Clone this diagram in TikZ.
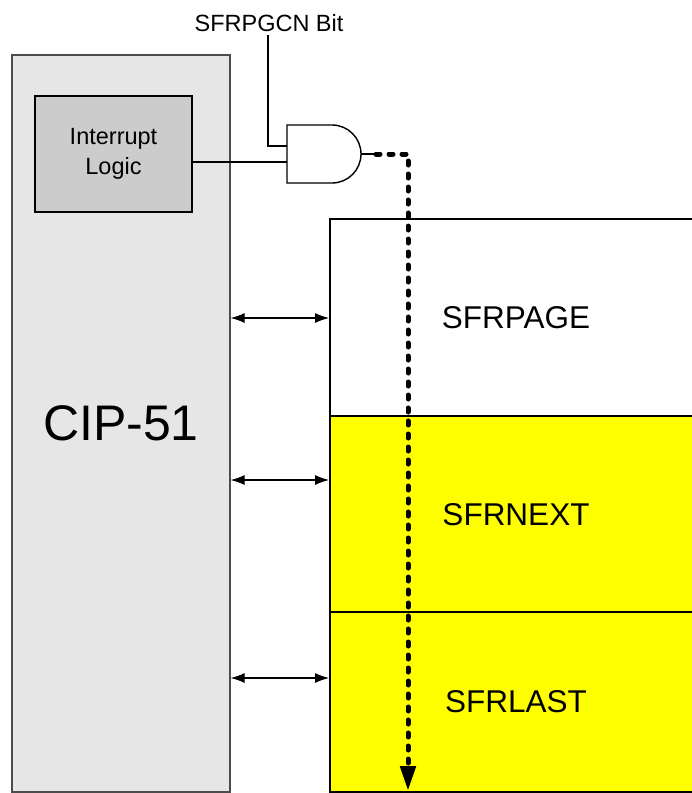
\documentclass[tikz,border=0pt]{standalone}
\usepackage{fontspec}
\setmainfont{Liberation Sans}
\usepackage{xcolor}
\usetikzlibrary{arrows.meta, positioning}
\definecolor{coregray}{RGB}{230,230,230}
\definecolor{logicgray}{RGB}{204,204,204}
\definecolor{sfryellow}{RGB}{255,255,0}
\tikzset{
    core/.style={rectangle, draw=black!70, line width=1.2pt, fill=coregray, minimum width=218pt, minimum height=737pt, text centered, inner sep=0pt, font=\fontsize{50}{55}\selectfont},
    logic/.style={rectangle, draw, line width=1.4pt, fill=logicgray, minimum width=157pt, minimum height=116pt, text centered, align=center, inner sep=0pt, font=\fontsize{23.5}{30}\selectfont},
    sfrbox/.style={rectangle, draw, line width=1.8pt, minimum width=372pt, minimum height=197pt, text centered, inner sep=0pt, font=\fontsize{31.5}{35}\selectfont},
    wire/.style={line width=1.4pt},
    bus/.style={{Latex[length=14pt,width=10pt]}-{Latex[length=14pt,width=10pt]}, line width=1.2pt},
    irq/.style={-{Triangle[length=25pt,width=15pt]}, line width=5pt, dash pattern=on 4pt off 9pt, line cap=round}
}
\begin{document}
\begin{tikzpicture}[x=1pt, y=-1pt]
    \useasboundingbox (0,0) rectangle (692,793);

    % Core
    \node[core] (cip) at (121,423.5) {CIP-51};
    \node[logic] (intlogic) at (113.5,154) {Interrupt\\Logic};

    % SFR pages
    \node[sfrbox, fill=white] (sfrpage) at (516,317.5) {SFRPAGE};
    \node[sfrbox, fill=sfryellow] (sfrnext) at (516,514.5) {SFRNEXT};
    \node[sfrbox, fill=sfryellow, minimum height=180pt] (sfrlast) at (516,702) {SFRLAST};

    % Gate
    \node[font=\fontsize{23.5}{28}\selectfont] (sfrpgcn) at (269,23) {SFRPGCN Bit};
    \draw[wire, fill=white] (287,125) -- (332,125) arc[start angle=-90, end angle=90, radius=29] -- (287,183) -- cycle;
    \coordinate (gin1) at (287,146);
    \coordinate (gin2) at (287,162);
    \coordinate (gout) at (361,154);
    \coordinate (stub) at (376,154);
    \coordinate (turn) at (408,154);
    \coordinate (tip) at (408,791);

    % Connections
    \draw[wire] (sfrpgcn.south -| 268,0) |- (gin1);
    \draw[wire] (intlogic.east |- gin2) -- (gin2);
    \draw[wire] (gout) -- (stub);
    \draw[irq] (stub) -- (turn) -- (tip);
    \draw[bus] (cip.east |- 0,318) -- (sfrpage.west |- 0,318);
    \draw[bus] (cip.east |- 0,480) -- (sfrnext.west |- 0,480);
    \draw[bus] (cip.east |- 0,678) -- (sfrlast.west |- 0,678);
\end{tikzpicture}
\end{document}
